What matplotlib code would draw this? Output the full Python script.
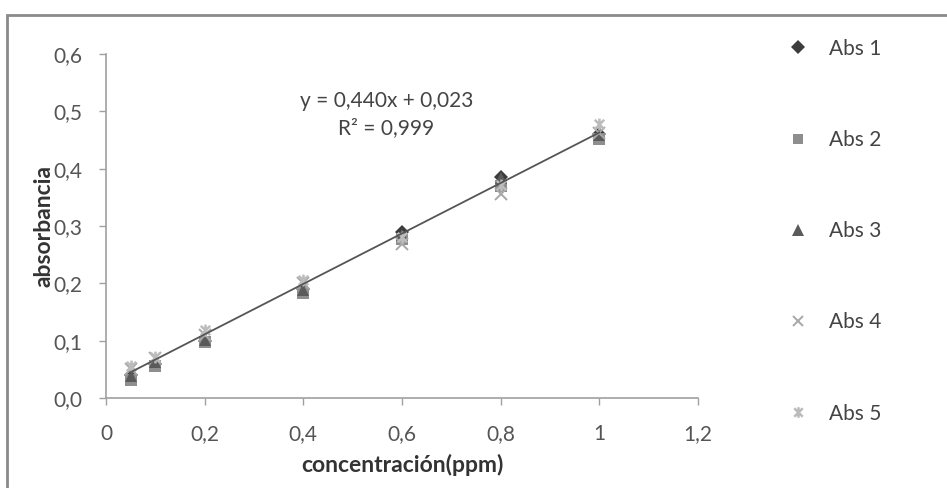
import numpy as np
import matplotlib
matplotlib.use("Agg")
import matplotlib.pyplot as plt
from matplotlib.path import Path
from matplotlib.patches import Rectangle

# ---- data ----
conc = [0.05, 0.1, 0.2, 0.4, 0.6, 0.8, 1.0]
abs1 = [0.040, 0.060, 0.100, 0.190, 0.290, 0.385, 0.460]
abs2 = [0.032, 0.055, 0.098, 0.183, 0.278, 0.370, 0.452]
abs3 = [0.038, 0.062, 0.102, 0.188, 0.285, 0.383, 0.458]
abs4 = [0.050, 0.070, 0.110, 0.200, 0.268, 0.355, 0.462]
abs5 = [0.055, 0.072, 0.118, 0.205, 0.280, 0.372, 0.478]
series_labels = ["Abs 1", "Abs 2", "Abs 3", "Abs 4", "Abs 5"]
slope = 0.440
intercept = 0.023
xticks = [0, 0.2, 0.4, 0.6, 0.8, 1.0, 1.2]
xticklabels = ["0", "0,2", "0,4", "0,6", "0,8", "1", "1,2"]
yticks = [0.0, 0.1, 0.2, 0.3, 0.4, 0.5, 0.6]
yticklabels = ["0,0", "0,1", "0,2", "0,3", "0,4", "0,5", "0,6"]

plt.rcParams['font.family'] = ['Lato', 'DejaVu Sans']
FS = 15

star = Path([(-1, -1), (1, 1), (-1, 1), (1, -1), (0, -1.25), (0, 1.25)],
            [Path.MOVETO, Path.LINETO, Path.MOVETO, Path.LINETO, Path.MOVETO, Path.LINETO])

styles = [
    dict(marker='D', color='#3c3c3c', ms=7.5, mew=0),
    dict(marker='s', color='#8e8e8e', ms=8.5, mew=0),
    dict(marker='^', color='#5a5a5a', ms=9, mew=0),
    dict(marker='x', color='#a8a8a8', ms=8.5, mew=1.4),
    dict(marker=star, color='#bcbcbc', ms=8.5, mew=1.8),
]

fig = plt.figure(figsize=(9.47, 4.88), dpi=100)
fig.patch.set_facecolor('white')
ax = fig.add_axes([106/947, 1-398/488, (698-106)/947, (398-54)/488])

handles = []
for vals, lab, st in zip([abs1, abs2, abs3, abs4, abs5], series_labels, styles):
    h, = ax.plot(conc, vals, linestyle='none', marker=st['marker'], color=st['color'],
                 markersize=st['ms'], markeredgewidth=st['mew'], label=lab)
    handles.append(h)

xf = np.array([conc[0], conc[-1]])
ax.plot(xf, slope*xf + intercept, color='#555555', lw=1.3, zorder=5)

ax.text(0.568, 0.518, "y = 0,440x + 0,023", ha='center', va='center',
        fontsize=FS, color='#444444')
ax.text(0.568, 0.470, "R² = 0,999", ha='center', va='center',
        fontsize=FS, color='#444444')

ax.set_xlim(0, 1.2)
ax.set_ylim(0, 0.6)
ax.set_xticks(xticks)
ax.set_xticklabels(xticklabels)
ax.set_yticks(yticks)
ax.set_yticklabels(yticklabels)
for s in ['top', 'right']:
    ax.spines[s].set_visible(False)
for s in ['left', 'bottom']:
    ax.spines[s].set_color('#a0a0a0')
    ax.spines[s].set_linewidth(1.2)
ax.tick_params(axis='both', direction='out', length=5, color='#a0a0a0', width=1,
               labelsize=FS, labelcolor='#555555')
ax.tick_params(axis='x', pad=14)
ax.tick_params(axis='y', pad=12)

ax.set_xlabel("concentración(ppm)", fontsize=16.5, fontweight='bold', color='#333333', labelpad=7)
ax.set_ylabel("absorbancia", fontsize=16.5, fontweight='bold', color='#333333', labelpad=-1)

fig.legend(handles=handles, loc='upper left', bbox_to_anchor=(769/947, 1-20/488),
           frameon=False, fontsize=FS, labelspacing=3.42, handletextpad=1.0,
           handlelength=1.0, labelcolor='#444444', markerscale=0.9)

fig.add_artist(Rectangle((7/947, -0.2), 1.2, 1.2 - 15/488, transform=fig.transFigure,
                         fill=False, edgecolor='#8a8a8a', linewidth=2))

fig.savefig("out.png", dpi=100)
